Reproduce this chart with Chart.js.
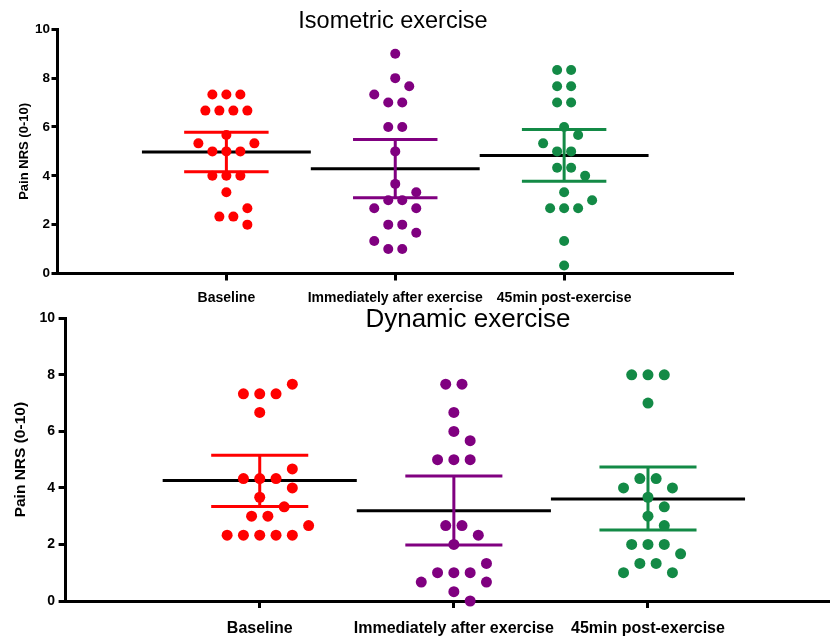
<!DOCTYPE html>
<html><head><meta charset="utf-8">
<script src="https://cdn.jsdelivr.net/npm/chart.js@4/dist/chart.umd.min.js"></script>
<style>
html,body{margin:0;padding:0;background:#fff;width:835px;height:640px;overflow:hidden}
#top{position:absolute;left:0;top:0;width:835px;height:305px}
#bot{position:absolute;left:0;top:305px;width:835px;height:335px}
</style></head><body>
<div id="top"><canvas id="c1"></canvas></div>
<div id="bot"><canvas id="c2"></canvas></div>
<script>
// ---------- data ----------
const categories = ["Baseline", "Immediately after exercise", "45min post-exercise"];
const yTicks = [0, 2, 4, 6, 8, 10];
const yTitle = "Pain NRS (0-10)";
const groupColors = ["#ff0000", "#800080", "#138a46"];

const isoTitle = "Isometric exercise";
const isoBaseline  = [7.33,7.33,7.33,6.67,6.67,6.67,6.67,5.67,5.33,5.33,5,5,5,4,4,4,3.33,2.67,2.33,2.33,2];
const isoImmediate = [9,8,7.67,7.33,7,7,6,6,5,3.67,3.33,3,3,2.67,2.67,2,2,1.67,1.33,1,1];
const iso45min     = [8.33,8.33,7.67,7.67,7,7,6,5.67,5.33,5,5,4.33,4.33,4,3.33,3,2.67,2.67,2.67,1.33,0.33];
const isoMean   = [4.98, 4.29, 4.83];
const isoCIHigh = [5.78, 5.49, 5.90];
const isoCILow  = [4.17, 3.10, 3.78];

const dynTitle = "Dynamic exercise";
const dynBaseline  = [7.67,7.33,7.33,7.33,6.67,4.67,4.33,4.33,4.33,4,3.67,3.33,3,3,2.67,2.33,2.33,2.33,2.33,2.33];
const dynImmediate = [7.67,7.67,6.67,6,5.67,5,5,5,2.67,2.67,2.33,2,1.33,1,1,1,0.67,0.67,0.33,0];
const dyn45min     = [8,8,8,7,4.33,4.33,4,4,3.67,3.33,3,2.67,2,2,2,1.67,1.33,1.33,1,1];
const dynMean   = [4.26, 3.19, 3.61];
const dynCIHigh = [5.16, 4.42, 4.74];
const dynCILow  = [3.34, 1.98, 2.51];

// ---------- swarm layout (computed, in pixels -> axis units) ----------
function swarmOffsets(vals, pxPerUnitY, step, minDist) {
  const rows = new Map();
  vals.forEach((v, i) => { const k = v.toFixed(2); if (!rows.has(k)) rows.set(k, []); rows.get(k).push(i); });
  const order = [...rows.entries()].sort((a, b) => b[1].length - a[1].length || parseFloat(b[0]) - parseFloat(a[0]));
  const placed = [];
  const off = new Array(vals.length).fill(0);
  const shifts = [0];
  for (let s = 0.5; s <= 4; s += 0.5) { shifts.push(s, -s); }
  order.forEach(([k, idx]) => {
    const v = parseFloat(k), n = idx.length;
    let best = null, bestCost = Infinity;
    for (let g = 1; g <= 4; g++) {
      for (const s of shifts) {
        const cost = 2 * Math.abs(s) + (g - 1);
        if (cost >= bestCost) continue;
        const pos = [];
        for (let i = 0; i < n; i++) pos.push(s + (i - (n - 1) / 2) * g);
        let ok = true;
        for (const p of pos) {
          for (const q of placed) {
            const dx = (p - q.o) * step, dy = (v - q.v) * pxPerUnitY;
            if (dx * dx + dy * dy < minDist * minDist) { ok = false; break; }
          }
          if (!ok) break;
        }
        if (ok) { best = pos; bestCost = cost; }
      }
    }
    best.forEach((p, i) => { off[idx[i]] = p; placed.push({ o: p, v: v }); });
  });
  return off.map(o => o * step);
}

// ---------- text plugin ----------
const textPlugin = {
  id: 'texts',
  afterDraw(chart, args, o) {
    const ctx = chart.ctx, ca = chart.chartArea;
    ctx.save();
    ctx.fillStyle = '#000';
    ctx.textAlign = 'center';
    ctx.textBaseline = 'alphabetic';
    ctx.font = o.titleFont;
    ctx.fillText(o.title, o.titleX, o.titleBase);
    ctx.translate(o.yTitleX, (ca.top + ca.bottom) / 2);
    ctx.rotate(-Math.PI / 2);
    ctx.textBaseline = 'middle';
    ctx.font = o.yTitleFont;
    ctx.fillText(yTitle, 0, 0);
    ctx.restore();
  }
};

function makeChart(canvasId, cfg) {
  const groups = cfg.groups;
  const datasets = [];
  groups.forEach((vals, gi) => {
    const c = gi + 1;
    datasets.push({
      label: categories[gi] + ' mean', data: [{x: c - 0.5, y: cfg.mean[gi]}, {x: c + 0.5, y: cfg.mean[gi]}],
      showLine: true, borderColor: '#000', borderWidth: 3, pointRadius: 0, order: 2, clip: false, borderCapStyle: 'butt'
    });
    datasets.push({
      label: categories[gi] + ' CI',
      data: [{x: c - 0.25, y: cfg.hi[gi]}, {x: c + 0.25, y: cfg.hi[gi]}, {x: c, y: null},
             {x: c - 0.25, y: cfg.lo[gi]}, {x: c + 0.25, y: cfg.lo[gi]}, {x: c, y: null},
             {x: c, y: cfg.lo[gi]}, {x: c, y: cfg.hi[gi]}],
      showLine: true, spanGaps: false, borderColor: groupColors[gi], borderWidth: 3, pointRadius: 0, order: 1, clip: false
    });
  });
  groups.forEach((vals, gi) => {
    datasets.push({
      label: categories[gi], data: vals.map(v => ({x: gi + 1, y: v})),
      showLine: false, pointRadius: cfg.radius, pointHoverRadius: cfg.radius,
      backgroundColor: groupColors[gi], borderColor: groupColors[gi], borderWidth: 0, order: 0, clip: false
    });
  });
  const chart = new Chart(document.getElementById(canvasId), {
    type: 'scatter',
    data: { datasets },
    plugins: [textPlugin],
    options: {
      responsive: true, maintainAspectRatio: false, animation: false,
      events: [],
      layout: { padding: cfg.padding },
      plugins: {
        legend: { display: false }, tooltip: { enabled: false },
        texts: cfg.texts
      },
      scales: {
        x: {
          type: 'linear', min: 0, max: cfg.xMax,
          afterBuildTicks: s => { s.ticks = categories.map((t, i) => ({ value: i + 1 })); },
          afterFit: s => { s.height = cfg.xHeight; },
          ticks: {
            autoSkip: false, maxRotation: 0, minRotation: 0, color: '#000',
            padding: cfg.xLabelPad,
            font: { family: 'Liberation Sans, Arial, sans-serif', weight: 'bold', size: cfg.xFont },
            callback: (v) => categories[Math.round(v) - 1]
          },
          grid: { display: true, drawOnChartArea: false, drawTicks: true, tickLength: 7, tickWidth: 3, tickColor: '#000', color: '#000' },
          border: { display: true, color: '#000', width: 3 }
        },
        y: {
          type: 'linear', min: 0, max: 10,
          afterBuildTicks: s => { s.ticks = yTicks.map(v => ({ value: v })); },
          afterFit: s => { s.width = cfg.yWidth; },
          ticks: {
            color: '#000', padding: cfg.yLabelPad,
            font: { family: 'Liberation Sans, Arial, sans-serif', weight: 'bold', size: cfg.yFont }
          },
          grid: { display: true, drawOnChartArea: false, drawTicks: true, tickLength: cfg.yTickLen, tickWidth: 3, tickColor: '#000', color: '#000' },
          border: { display: true, color: '#000', width: 3 }
        }
      }
    }
  });
  // place dots as a column scatter using the library's scales
  const xs = chart.scales.x, ys = chart.scales.y;
  const pxPerCat = xs.getPixelForValue(1) - xs.getPixelForValue(0);
  const pxPerUnitY = Math.abs(ys.getPixelForValue(1) - ys.getPixelForValue(0));
  groups.forEach((vals, gi) => {
    const offs = swarmOffsets(vals, pxPerUnitY, cfg.step, cfg.step * 0.8);
    const ds = chart.data.datasets[groups.length * 2 + gi];
    ds.data = vals.map((v, i) => ({ x: gi + 1 + offs[i] / pxPerCat, y: v }));
  });
  chart.update('none');
  return chart;
}

makeChart('c1', {
  groups: [isoBaseline, isoImmediate, iso45min],
  mean: isoMean, hi: isoCIHigh, lo: isoCILow,
  radius: 5, step: 14,
  xMax: 4, xHeight: 31.5, yWidth: 57.5,
  padding: { left: 0, right: 102, top: 29.3, bottom: 0 },
  xFont: 14, yFont: 13.5, xLabelPad: 9.5, yLabelPad: 1.5, yTickLen: 6,
  texts: { title: isoTitle, titleFont: '23.5px "Liberation Sans", Arial, sans-serif', titleX: 393, titleBase: 28.3,
           yTitleX: 24, yTitleFont: 'bold 13px "Liberation Sans", Arial, sans-serif' }
});

makeChart('c2', {
  groups: [dynBaseline, dynImmediate, dyn45min],
  mean: dynMean, hi: dynCIHigh, lo: dynCILow,
  radius: 5.5, step: 16.3,
  xMax: 3.935, xHeight: 39, yWidth: 65.6,
  padding: { left: 0, right: 0, top: 13.3, bottom: 0 },
  xFont: 16, yFont: 14, xLabelPad: 10.5, yLabelPad: 3.5, yTickLen: 7,
  texts: { title: dynTitle, titleFont: '26px "Liberation Sans", Arial, sans-serif', titleX: 468, titleBase: 21.5,
           yTitleX: 21, yTitleFont: 'bold 15.5px "Liberation Sans", Arial, sans-serif' }
});
</script>
</body></html>
